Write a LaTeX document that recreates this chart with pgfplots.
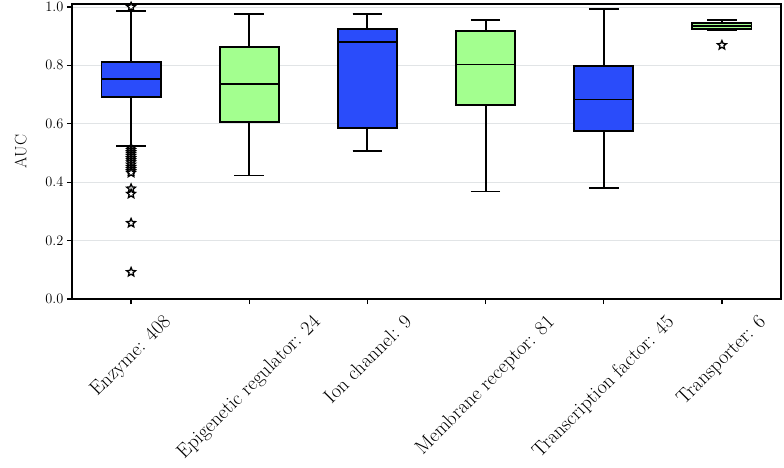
\documentclass[border=0pt]{standalone}
\usepackage{fontspec}
\usepackage{pgfplots}
\pgfplotsset{compat=1.18}
\usepgfplotslibrary{statistics}
\usetikzlibrary{calc}
\usepackage{graphicx}
\definecolor{cblue}{RGB}{42,76,250}
\definecolor{cgreen}{RGB}{163,255,143}
\definecolor{cgrid}{RGB}{225,228,230}
\pgfdeclareplotmark{hstar}{%
  \pgfpathmoveto{\pgfpointpolar{90}{\pgfplotmarksize}}%
  \pgfpathlineto{\pgfpointpolar{126}{0.45\pgfplotmarksize}}%
  \pgfpathlineto{\pgfpointpolar{162}{\pgfplotmarksize}}%
  \pgfpathlineto{\pgfpointpolar{198}{0.45\pgfplotmarksize}}%
  \pgfpathlineto{\pgfpointpolar{234}{\pgfplotmarksize}}%
  \pgfpathlineto{\pgfpointpolar{270}{0.45\pgfplotmarksize}}%
  \pgfpathlineto{\pgfpointpolar{306}{\pgfplotmarksize}}%
  \pgfpathlineto{\pgfpointpolar{342}{0.45\pgfplotmarksize}}%
  \pgfpathlineto{\pgfpointpolar{18}{\pgfplotmarksize}}%
  \pgfpathlineto{\pgfpointpolar{54}{0.45\pgfplotmarksize}}%
  \pgfpathclose
  \pgfusepathqfillstroke}
\begin{document}
\begin{tikzpicture}
\begin{axis}[
  name=ax,
  scale only axis,
  width=709pt, height=295pt,
  xmin=-0.5, xmax=5.5,
  ymin=0, ymax=1.01,
  xtick={0,1,2,3,4,5},
  xticklabels={
    \rotatebox{45}{Enzyme: 408},
    \rotatebox{45}{Epigenetic regulator: 24},
    \rotatebox{45}{Ion channel: 9},
    \rotatebox{45}{Membrane receptor: 81},
    \rotatebox{45}{Transcription factor: 45},
    \rotatebox{45}{Transporter: 6}},
  x tick label style={anchor=north, font=\fontsize{20}{22}\selectfont, inner sep=0pt, yshift=-9pt},
  ytick={0,0.2,0.4,0.6,0.8,1.0},
  yticklabel style={/pgf/number format/fixed, /pgf/number format/precision=1, /pgf/number format/fixed zerofill, font=\fontsize{14}{16}\selectfont},
  ylabel={AUC},
  ylabel style={font=\fontsize{16.5}{18}\selectfont},
  ylabel shift=12pt,
  ymajorgrids,
  major grid style={cgrid, line width=0.8pt},
  tick align=outside,
  major tick length=5pt,
  xtick pos=bottom, ytick pos=left,
  axis line style={line width=1.3pt},
  tick style={line width=1.2pt, black},
  boxplot/draw direction=y,
  boxplot/box extend=0.5,
  boxplot/whisker extend=0.25,
  boxplot/every box/.style={draw=black, line width=1.9pt},
  boxplot/every whisker/.style={draw=black, line width=1.9pt},
  boxplot/every median/.style={draw=black, line width=1.9pt},
  mark size=4.6pt,
]
\addplot[boxplot prepared={draw position=0, lower whisker=0.525, lower quartile=0.692, median=0.754, upper quartile=0.812, upper whisker=0.987},
  draw=black, fill=cblue, line width=1.9pt, mark=hstar, mark options={fill=white, draw=black, line width=1.3pt}]
  table[row sep=\\, y index=0]{y\\ 1.0\\ 0.517\\ 0.51\\ 0.503\\ 0.497\\ 0.49\\ 0.482\\ 0.475\\ 0.468\\ 0.46\\ 0.452\\ 0.445\\ 0.438\\ 0.432\\ 0.378\\ 0.36\\ 0.26\\ 0.092\\};
\addplot[boxplot prepared={draw position=1, lower whisker=0.423, lower quartile=0.607, median=0.737, upper quartile=0.862, upper whisker=0.976},
  draw=black, fill=cgreen, line width=1.9pt] coordinates {};
\addplot[boxplot prepared={draw position=2, lower whisker=0.508, lower quartile=0.587, median=0.881, upper quartile=0.924, upper whisker=0.976},
  draw=black, fill=cblue, line width=1.9pt] coordinates {};
\addplot[boxplot prepared={draw position=3, lower whisker=0.368, lower quartile=0.663, median=0.803, upper quartile=0.919, upper whisker=0.955},
  draw=black, fill=cgreen, line width=1.9pt] coordinates {};
\addplot[boxplot prepared={draw position=4, lower whisker=0.379, lower quartile=0.574, median=0.683, upper quartile=0.798, upper whisker=0.993},
  draw=black, fill=cblue, line width=1.9pt] coordinates {};
\addplot[boxplot prepared={draw position=5, lower whisker=0.921, lower quartile=0.925, median=0.935, upper quartile=0.946, upper whisker=0.955},
  draw=black, fill=cgreen, line width=1.9pt, mark=hstar, mark options={fill=white, draw=black, line width=1.3pt}]
  table[row sep=\\, y index=0]{y\\ 0.869\\};
\end{axis}
\pgfresetboundingbox
\path[use as bounding box] ($(ax.south west)+(-72pt,-168pt)$) rectangle ($(ax.north east)+(3pt,4pt)$);
\end{tikzpicture}
\end{document}
